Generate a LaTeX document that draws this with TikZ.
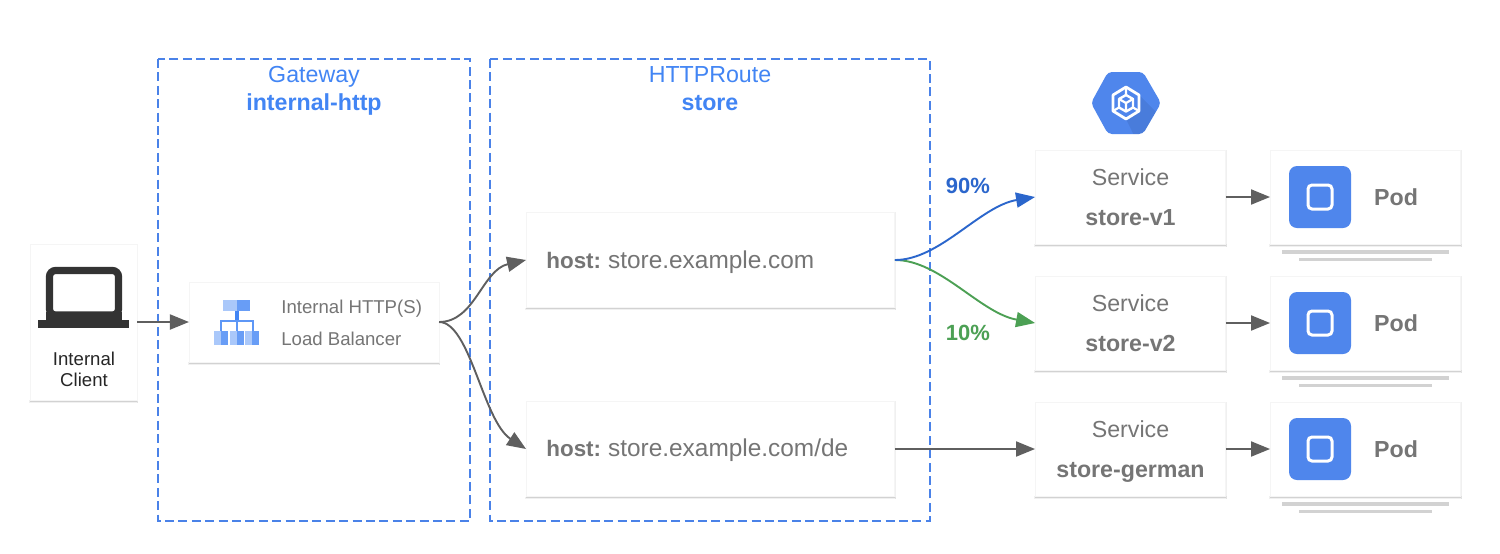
\documentclass[tikz,border=0pt]{standalone}
\usepackage{fontspec}
\setmainfont{Liberation Sans}
\usetikzlibrary{arrows.meta,backgrounds}
\definecolor{gblue}{HTML}{4F86EC}
\definecolor{dashblue}{HTML}{4A82E8}
\definecolor{titleblue}{HTML}{4285F4}
\definecolor{txt}{HTML}{757575}
\definecolor{arrowgray}{HTML}{5F5F5F}
\definecolor{vblue}{HTML}{2B66CC}
\definecolor{vgreen}{HTML}{4CA054}
\definecolor{barg}{HTML}{D2D2D2}
\tikzset{
  card/.style={draw=black!4,line width=0.25pt,fill=white,inner sep=0pt},
  svc/.style={card,minimum width=95.2pt,minimum height=46.8pt,align=center,text=txt,
    font=\fontsize{11.6}{20}\selectfont},
  podc/.style={card,minimum width=95.2pt,minimum height=46.8pt},
  hostc/.style={card,minimum width=184.2pt,minimum height=47.3pt},
  zone/.style={draw=dashblue,line width=0.75pt,dash pattern=on 4.5pt off 2.2pt},
  title/.style={text=titleblue,inner sep=0pt,anchor=base,font=\fontsize{11.6}{14}\selectfont},
  titleb/.style={title,font=\bfseries\fontsize{11.6}{14}\selectfont},
  link/.style={draw=arrowgray,line width=0.95pt,-{Triangle[length=9.5pt,width=7.5pt]}},
  linkb/.style={link,draw=vblue},
  linkg/.style={link,draw=vgreen},
  hosttxt/.style={text=txt,inner sep=0pt,anchor=base west,font=\fontsize{12.2}{14}\selectfont},
  podtxt/.style={text=txt,inner sep=0pt,font=\bfseries\fontsize{11.6}{14}\selectfont},
  pct/.style={inner sep=0pt,font=\bfseries\fontsize{11}{14}\selectfont},
  lbtxt/.style={text=txt,inner sep=0pt,anchor=base west,font=\fontsize{9.3}{12}\selectfont},
  shade1/.style={fill=black,opacity=.06},
  shade2/.style={fill=black,opacity=.12}
}
\newcommand{\podicon}[1]{%
  \fill[gblue,rounded corners=4pt] (1289,#1-31) rectangle (1351,#1+31);
  \draw[white,line width=1.5pt,rounded corners=2pt] (1308,#1-12) rectangle (1332,#1+12);
  \fill[barg] (1282,#1+53) rectangle (1449,#1+57);
  \fill[barg] (1299,#1+61) rectangle (1432,#1+64);
}
\newcommand{\hosttext}[1]{{\bfseries\fontsize{11.2}{14}\selectfont host:}\hspace{3.5pt}#1}
\begin{document}
\begin{tikzpicture}[x=0.5pt,y=-0.5pt]
\useasboundingbox (0,0) rectangle (1500,553);
\begin{scope}[on background layer]
\fill[white] (0,0) rectangle (1500,553);
\end{scope}
% zones
\draw[zone] (158,59) rectangle (470,521);
\draw[zone] (490,59) rectangle (930,521);
\node[title] (gwt) at (314,82) {Gateway};
\node[titleb] (gwn) at (314,110) {internal-http};
\node[title] (hrt) at (710,82) {HTTPRoute};
\node[titleb] (hrn) at (710,110) {store};
% cards
\node[card,minimum width=53.3pt,minimum height=77.8pt] (client) at (83.5,322) {};
\node[card,minimum width=124.8pt,minimum height=39.8pt] (lb) at (314,322) {};
\node[hostc] (h1) at (710.5,260) {};
\node[hostc] (h2) at (710.5,449) {};
\node[svc] (s1) at (1130.5,197) {\strut Service\\\textbf{store-v1}\strut};
\node[svc] (s2) at (1130.5,323) {\strut Service\\\textbf{store-v2}\strut};
\node[svc] (s3) at (1130.5,449) {\strut Service\\\textbf{store-german}\strut};
\node[podc] (p1) at (1365.5,197) {};
\node[podc] (p2) at (1365.5,323) {};
\node[podc] (p3) at (1365.5,449) {};
\begin{scope}[on background layer]
\foreach \c in {client,lb,h1,h2,s1,s2,s3,p1,p2,p3}{
  \fill[shade1] ([xshift=-0.4pt]\c.south west) rectangle ([xshift=0.5pt,yshift=-1.3pt]\c.south east);
  \fill[shade1] ([xshift=0.5pt]\c.north east) rectangle ([yshift=-1.3pt]\c.south east);
  \fill[shade2] (\c.south west) rectangle ([yshift=-0.8pt]\c.south east);
}
\end{scope}
% client
\draw[fill=white,draw=black!80,line width=3.6pt,rounded corners=3pt] (49.5,270.5) rectangle (118.5,315);
\fill[black!80] (38,320) rectangle (129,328);
\fill[black!80] (46,312) rectangle (122,321);
\node[inner sep=0pt,align=center,text=black!85,font=\fontsize{9.3}{10.6}\selectfont] (clt) at (84,369.5) {Internal\\Client};
% lb icon
\fill[titleblue!45] (223,300) rectangle (237,311);
\fill[titleblue!80] (237,300) rectangle (250,311);
\fill[titleblue] (235,311) rectangle (239,322);
\draw[titleblue!85,line width=1.2pt] (221,331) -- (221,321) -- (253,321) -- (253,331);
\draw[titleblue!85,line width=1.2pt] (237,321) -- (237,331);
\foreach \xa/\xb/\xc in {214/221/228,230/237/244,245/252/259}{
  \fill[titleblue!45] (\xa,331) rectangle (\xb,345);
  \fill[titleblue!80] (\xb,331) rectangle (\xc,345);
}
\node[lbtxt] (lb1) at (281,313) {Internal HTTP(S)};
\node[lbtxt] (lb2) at (281,345) {Load Balancer};
% hosts
\node[hosttxt] (h1t) at (546,268) {\hosttext{store.example.com}};
\node[hosttxt] (h2t) at (546,456) {\hosttext{store.example.com/de}};
% hexagon
\begin{scope}
\def\hexpath{(1091,103) -- (1108,72) -- (1143,72) -- (1161,103) -- (1143,134) -- (1108,134) -- cycle}
\fill[gblue,rounded corners=2pt] \hexpath;
\begin{scope}
\clip[rounded corners=2pt] \hexpath;
\fill[black,opacity=.07] (1126,119) -- (1139,112) -- (1139,95) -- (1185,141) -- (1146,160) -- cycle;
\end{scope}
\draw[white,line width=1.4pt,line join=round] (1126,87) -- (1139,95) -- (1139,111) -- (1126,119) -- (1113,111) -- (1113,95) -- cycle;
\draw[white,line width=1.2pt,line join=round] (1126,95) -- (1133,99) -- (1133,107.5) -- (1126,111.5) -- (1119,107.5) -- (1119,99) -- cycle;
\draw[white,line width=1.1pt] (1119,99) -- (1126,103) -- (1133,99) (1126,103) -- (1126,111.5);
\draw[white,line width=1.1pt] (1126,87) -- (1126,95) (1113,111) -- (1119,107.5) (1139,111) -- (1133,107.5);
\end{scope}
% pods
\podicon{197}
\podicon{323}
\podicon{449}
\node[podtxt] (p1t) at (1396,197) {Pod};
\node[podtxt] (p2t) at (1396,323) {Pod};
\node[podtxt] (p3t) at (1396,449) {Pod};
% percent
\node[pct,text=vblue] (n90) at (968,186) {90\%};
\node[pct,text=vgreen] (n10) at (968,333) {10\%};
% connectors
\draw[link] (client.east) -- (lb.west);
\draw[link] (lb.east) .. controls +(36,0) and +(-44,10) .. (h1.west);
\draw[link] (lb.east) .. controls +(31,0) and +(-43,-28) .. (h2.west);
\draw[linkg] (h1.east) .. controls +(45,0) and +(-55,-10) .. (s2.west);
\draw[linkb] (h1.east) .. controls +(45,0) and +(-55,9) .. (s1.west);
\draw[link] (h2.east) -- (s3.west);
\draw[link] (s1.east) -- (p1.west);
\draw[link] (s2.east) -- (p2.west);
\draw[link] (s3.east) -- (p3.west);
\end{tikzpicture}
\end{document}
